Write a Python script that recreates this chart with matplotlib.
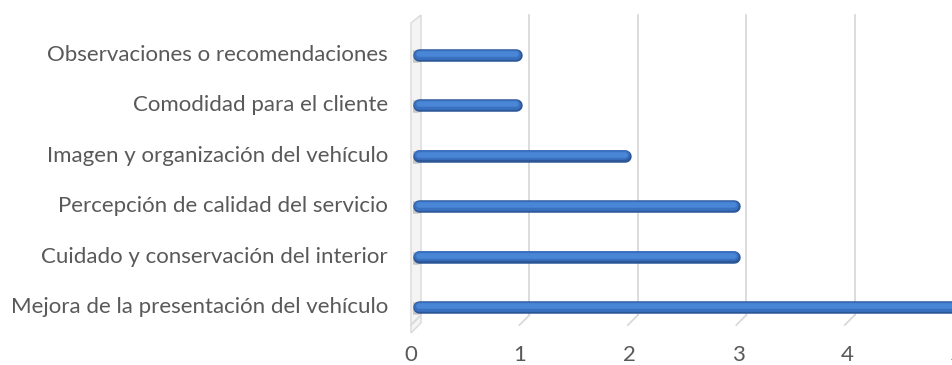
import matplotlib
matplotlib.use('Agg')
import matplotlib.pyplot as plt
from matplotlib.patches import Polygon

categorias = ['Mejora de la presentación del vehículo',
              'Cuidado y conservación del interior',
              'Percepción de calidad del servicio',
              'Imagen y organización del vehículo',
              'Comodidad para el cliente',
              'Observaciones o recomendaciones']
valores = [5, 3, 3, 2, 1, 1]
ticks = [0, 1, 2, 3, 4, 5]

W, H = 953, 365
px_x0, px_unit = 413, 109          # pixel of x=0 and pixels per unit
py_0, py_step = 307, 50.4          # pixel of first category and spacing


def dy(py):
    # pixel row -> data y
    return (py_0 - py) / py_step


def dx(px):
    # pixel column -> data x
    return (px - px_x0) / px_unit


fig = plt.figure(figsize=(W / 100, H / 100), dpi=100)
ax = fig.add_axes([px_x0 / W, 0, 5 * px_unit / W, 1])
ax.set_xlim(0, 5)
ax.set_ylim(dy(H), dy(0))
ax.axis('off')

plt.rcParams['font.family'] = ['Lato', 'DejaVu Sans']
gris = '#595959'

# pared lateral
pared = Polygon([(dx(411), dy(333)), (dx(421), dy(323)), (dx(421), dy(15)), (dx(411), dy(23))],
                closed=True, facecolor='#F4F4F4', edgecolor='#D9D9D9', lw=1, clip_on=False, zorder=1)
ax.add_patch(pared)

# lineas de division
for t in ticks:
    xg = t + dx(421) + (0 if t == 0 else -0.005 * t)
    if t > 0:
        ax.plot([xg, xg], [dy(15), dy(315)], color='#D9D9D9', lw=1.3, zorder=1, clip_on=False)
    ax.plot([xg, xg - dx(px_x0 + 10)], [dy(315), dy(325)], color='#D9D9D9', lw=1.3, zorder=1,
            clip_on=False)
    ax.text(t + dx(411), dy(355), str(t), ha='center', va='center', fontsize=16, color=gris,
            clip_on=False)

# barras cilindricas
r = 6 / px_unit
for i, v in enumerate(valores):
    y = i
    ax.plot([dx(409), dx(417)], [y - 0.02, y - 0.02], color='#9A9A9A', lw=9, alpha=0.5,
            solid_capstyle='round', zorder=2)
    ax.plot([r, v - r], [y, y], color='#2B5797', lw=9.0, solid_capstyle='round', zorder=3)
    ax.plot([r, v - r], [y + 0.006, y + 0.006], color='#3A70C0', lw=7.0, solid_capstyle='round',
            zorder=4)
    ax.plot([r, v - r], [y + 0.02, y + 0.02], color='#4A86D6', lw=4.0, solid_capstyle='round',
            zorder=5)
    ax.text(dx(388), y, categorias[i], ha='right', va='center', fontsize=16, color=gris,
            clip_on=False)

fig.savefig('out.png', dpi=100)
